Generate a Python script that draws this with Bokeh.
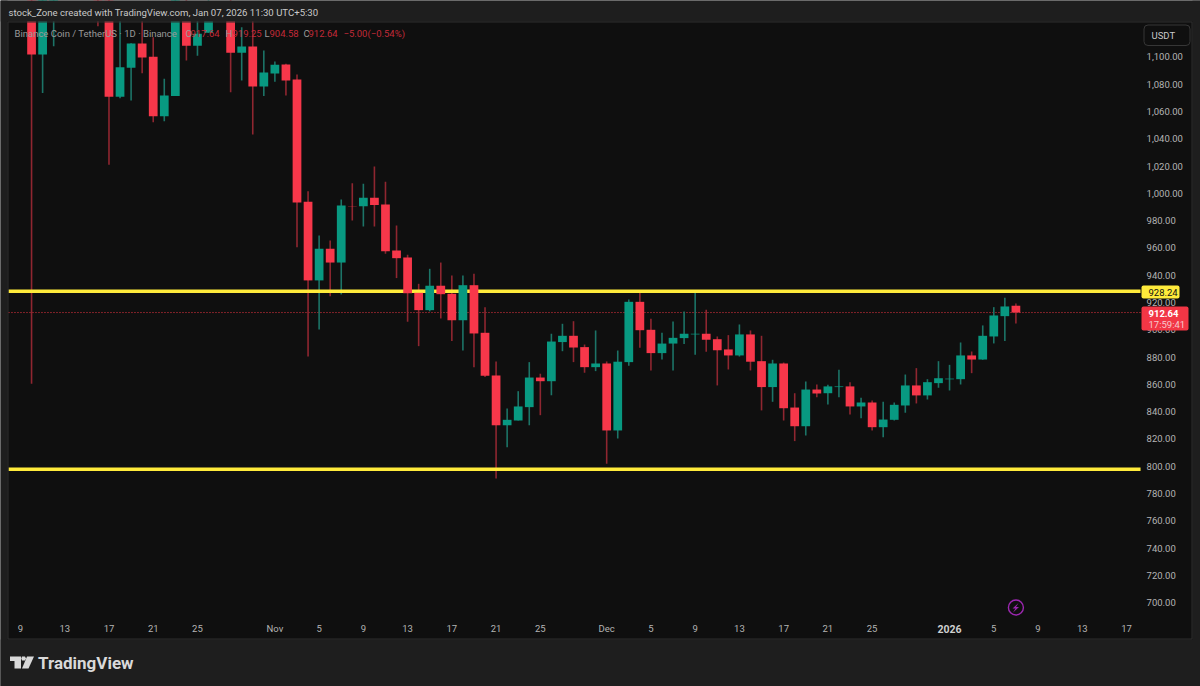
from bokeh.plotting import figure
from bokeh.embed import file_html
from bokeh.resources import INLINE
from bokeh.models import (Range1d, Label, BoxAnnotation, PolyAnnotation, FixedTicker,
                          ColumnDataSource, NumeralTickFormatter)

# ---- data -----------------------------------------------------------------
# day number counted from 9 Oct 2025; candles wholly above the pane are not listed
days = [1, 2, 3, 7, 8, 9, 10, 11, 12, 13, 14, 15, 16, 17, 19, 20, 21, 22, 23, 24, 25, 26, 27, 28,
        29, 30, 31, 32, 33, 34, 35, 36, 37, 38, 39, 40, 41, 42, 43, 44, 45, 46, 47, 48, 49, 50,
        51, 52, 53, 54, 55, 56, 57, 58, 59, 60, 61, 62, 63, 64, 65, 66, 67, 68, 69, 70, 71, 72,
        73, 74, 75, 76, 77, 78, 79, 80, 81, 82, 83, 84, 85, 86, 87, 88, 89, 90]
opens = [1170, 1101.8, 1135, 1170, 1170, 1070.8, 1092.1, 1109.9, 1100.1, 1056.6, 1071.3, 1135, 1108.2, 1117.7,
         1140, 1103.1, 1107.7, 1078.4, 1087.9, 1094.5, 1083.5, 993.8, 936.2, 959.4, 949.3, 990.6, 990.6, 996.8,
         991.9, 958.2, 953, 927.1, 914.4, 932.3, 926.4, 907, 932.7, 897.8, 866.5, 830, 833.5, 843.3, 865, 862.3,
         891, 895.6, 887.3, 872.6, 875.3, 826.2, 876.3, 920.5, 900, 882.9, 889.9, 893.9, 896.6, 897.1, 893.1, 885.6,
         881.2, 896.6, 877, 858, 875.3, 843, 829.3, 856.2, 853.5, 858, 858.5, 843.8, 846.7, 828.6, 834, 844.5,
         859.2, 851.9, 860.9, 863.7, 863.8, 881.2, 878.2, 895.1, 910, 917.64]
closes = [1101.8, 1150, 1160, 1135, 1070.8, 1092.5, 1109.9, 1099.6, 1056.6, 1071.8, 1145, 1108.2, 1117, 1135,
          1103.1, 1107.7, 1078.4, 1088.6, 1094.3, 1082.8, 993.3, 936.2, 959.4, 949.3, 991.1, 990.3, 996.8, 991.4,
          957.6, 952.5, 926.8, 914.4, 932.3, 926.1, 907, 932.7, 897.3, 866.3, 830, 834, 843.8, 865, 862.3, 891.4,
          895.6, 887, 872.6, 875.3, 826.2, 876.6, 920.5, 899.7, 882.9, 889.9, 894.1, 897.1, 897.1, 892.7, 885, 881.2,
          896.6, 876.6, 858, 875.3, 842.5, 829.3, 856.2, 853.3, 858.5, 858.5, 843.8, 846.7, 828.6, 834.2, 845, 859.2,
          851.9, 861.6, 864.5, 864.2, 881.2, 878.2, 895.6, 910.5, 917.1, 912.64]
highs = [1200, 1160, 1170, 1180, 1180, 1130, 1110, 1130, 1114.5, 1084, 1150, 1145, 1130, 1145,
         1150, 1121.8, 1130, 1104.8, 1096.7, 1095, 1087.2, 1001.6, 969.1, 965.5, 995.5, 1007.5, 1007, 1019.7,
         1008.5, 976.5, 955, 933.7, 944.7, 949.3, 939.8, 939.8, 941, 916.6, 876.8, 842.3, 855, 876.3, 867.8, 897.1,
         904.4, 906.3, 889.2, 899.5, 876.8, 884.8, 922.2, 928.1, 908.1, 897.8, 906.1, 913.4, 928.1, 914.7, 895.1, 896.1,
         903.9, 899.5, 895.6, 878, 876, 853.5, 862.1, 859.9, 859.7, 870.7, 861.6, 850.2, 848.2, 847.2, 846.7, 867.2,
         871.9, 863.8, 877, 874.3, 890.7, 884.1, 903.2, 916.6, 923.5, 919.25]
lows = [860.4, 1073.5, 1107.9, 1122.6, 1021, 1069.8, 1068.1, 1088.1, 1052.2, 1052.9, 1071.3, 1097.4, 1100.9, 1117.7,
        1074.2, 1082.8, 1043.2, 1071.3, 1081.8, 1071.8, 960.6, 880.4, 900.2, 924.6, 925.9, 980.1, 975.7, 975.7,
        955.7, 937.9, 905.9, 888, 913.5, 908.3, 891.7, 884.8, 872.6, 865.3, 791, 813.9, 833.5, 830, 837.4, 852,
        884.3, 876.3, 868.5, 869.7, 801.8, 820.3, 873.6, 886.8, 870.2, 878.2, 870.2, 889.5, 881.7, 883.9, 859.2, 870.9,
        880.4, 870.2, 840.9, 847.2, 833.5, 818.4, 822.5, 850.6, 845.2, 850.6, 837.9, 835.2, 826.2, 821.3, 833.5, 839.2,
        846, 848.9, 857.5, 855.5, 859.9, 868.2, 878, 890, 891.7, 904.58]

level_prices = [928.24, 797.76]
last_price = [912.64]
price_ticks = [700, 720, 740, 760, 780, 800, 820, 840, 860, 880, 900, 920, 940, 960, 980,
               1000, 1020, 1040, 1060, 1080, 1100]
time_ticks = [0, 4, 8, 12, 16, 23, 27, 31, 35, 39, 43, 47, 53, 57, 61, 65, 69, 73, 77, 84, 88, 92, 96, 100]
time_labels = ["9", "13", "17", "21", "25", "Nov", "5", "9", "13", "17", "21", "25", "Dec", "5", "9",
               "13", "17", "21", "25", "", "5", "9", "13", "17"]
year_tick = 84
year_label = "2026"
title_text = "stock_Zone created with TradingView.com, Jan 07, 2026 11:30 UTC+5:30"

# ---- palette / type ---------------------------------------------------------
UP, DOWN = "#089981", "#f7374a"
WICK_UP, WICK_DOWN = "#1c7467", "#8f2630"
PANE, CHROME, EDGE = "#0f0f0f", "#1e1e1e", "#2e2e2e"
GREY = "#b4b4b4"
FONT = "Roboto"
TEXT_SIZE = "9.5px"

colors = [UP if c >= o else DOWN for o, c in zip(opens, closes)]
wicks = [WICK_UP if c >= o else WICK_DOWN for o, c in zip(opens, closes)]
src = ColumnDataSource(dict(x=days, o=opens, c=closes, h=highs, l=lows, col=colors, wick=wicks))

# the frame fills the whole page; the axes sit inside it at the pane's right and bottom edges
W, H = 1200, 686
PANE_LEFT, PANE_RIGHT = -1.085, 101.27
PANE_BOTTOM = 688.4
p = figure(width=W, height=H, output_backend="svg", toolbar_location=None,
           x_range=Range1d(-1.808, 106.69), y_range=Range1d(638.5, 1141.4),
           y_axis_location="right", min_border_left=0, min_border_right=0,
           min_border_top=0, min_border_bottom=0,
           background_fill_color=PANE, border_fill_color=CHROME, outline_line_color=None)
p.grid.visible = False

# axes
ya = p.yaxis[0]
ya.fixed_location = PANE_RIGHT
ya.ticker = FixedTicker(ticks=price_ticks)
ya.formatter = NumeralTickFormatter(format="0,0.00")
ya.axis_line_color = None
ya.major_tick_line_color = None
ya.minor_tick_line_color = None
ya.major_tick_out = 0
ya.major_label_standoff = 6
ya.major_label_text_color = GREY
ya.major_label_text_font = FONT
ya.major_label_text_font_size = TEXT_SIZE

xa = p.xaxis[0]
xa.fixed_location = PANE_BOTTOM
xa.ticker = FixedTicker(ticks=time_ticks)
xa.major_label_overrides = {t: s for t, s in zip(time_ticks, time_labels)}
xa.axis_line_color = None
xa.major_tick_line_color = None
xa.minor_tick_line_color = None
xa.major_tick_out = 0
xa.major_label_standoff = 5
xa.major_label_text_color = GREY
xa.major_label_text_font = FONT
xa.major_label_text_font_size = TEXT_SIZE

# marks: last-price line, wicks, level lines, bodies
p.segment([PANE_LEFT], last_price, [PANE_RIGHT], last_price, line_color="#f23645", line_width=1, line_dash="1 2")
p.segment("x", "h", "x", "l", source=src, line_color="wick", line_width=1.6)
p.segment([PANE_LEFT] * 2, level_prices, [PANE_RIGHT] * 2, level_prices, line_color="#ffeb3b", line_width=3.5)
p.vbar("x", 0.79, "o", "c", source=src, fill_color="col", line_color=None)


def box(left, right, top, bottom, fill, line=None, radius=0):
    b = BoxAnnotation(left=left, right=right, top=top, bottom=bottom, left_units="canvas", right_units="canvas",
                      top_units="canvas", bottom_units="canvas", fill_color=fill, fill_alpha=1 if fill else 0,
                      line_color=line, line_width=1, line_alpha=1, border_radius=radius, editable=False)
    p.add_layout(b)
    return b


def lbl(text, x, y, color=GREY, size=TEXT_SIZE, style="normal", align="left", x_units="canvas", y_units="canvas"):
    lab = Label(x=x, y=y, x_units=x_units, y_units=y_units, text=text, text_color=color, text_font=FONT,
                text_font_size=size, text_font_style=style, text_align=align, text_baseline="middle")
    p.add_layout(lab)
    return lab


def poly(xs, ys, color):
    p.add_layout(PolyAnnotation(xs=xs, ys=ys, xs_units="canvas", ys_units="canvas", fill_color=color,
                                fill_alpha=1, line_color=None))


# chrome bands round the chart area (they also hide what runs above the pane)
box(0, W, 0, 21, CHROME)
box(0, W, 639, H, CHROME)
box(0, 7, 0, H, CHROME)
box(1192, W, 0, H, CHROME)
box(7.5, 1191.5, 21.5, 638.5, None, line=EDGE)

# all coordinates below are page pixels
lbl(title_text, 8, 12, color="#c9c9c9", size="9.6px")

lbl("Binance Coin / TetherUS · 1D · Binance", 14, 32.5, color="#9a9a9a")
for txt, xx, col in [("O", 185, "#9a9a9a"), ("917.64", 190, "#c22a38"), ("H", 225, "#9a9a9a"),
                     ("919.25", 232, "#c22a38"), ("L", 264, "#9a9a9a"), ("904.58", 269, "#c22a38"),
                     ("C", 303, "#9a9a9a"), ("912.64", 308, "#c22a38"), ("−5.00", 343, "#c22a38"),
                     ("(−0.54%)", 367, "#c22a38")]:
    lbl(txt, xx, 32.5, color=col)

# USDT button
box(1143.5, 1189.5, 24.5, 45, None, line="#363636", radius=4)
lbl("USDT", 1151, 35, color="#c8c8c8")

# price tags on the axis
box(1141, 1179, 285, 298, "#ffeb3b", radius=2)
lbl("928.24", 1148, 291.5, color="#111111")
box(1141, 1188, 306, 330, "#f23645", radius=2)
lbl("912.64", 1148, 312.5, color="#ffffff", style="bold")
lbl("17:59:41", 1148, 324, color="#f6c9ce")

# bold year on the time scale
lbl(year_label, year_tick, 628, color="#d0d0d0", size="10.5px", style="bold", align="center", x_units="data")

# lightning-bolt marker near the last candle
p.scatter([90], [696.4], size=15, marker="circle", fill_color=None, line_color="#9c27b0", line_width=1.4)
poly([1018, 1012, 1015, 1012.5, 1018.5, 1015.5], [602.5, 608, 608, 612, 606.5, 606.5], "#9c27b0")

# TradingView logo
LOGO = "#d9d9d9"
poly([9.5, 20.5, 20.5, 14, 14, 9.5], [656, 656, 668, 668, 660.5, 660.5], LOGO)
poly([21.5, 24.5, 25.5, 24.5, 21.5, 20.8], [656, 656, 658, 660, 660, 658], LOGO)
poly([26.5, 33.5, 28, 21.5], [656, 656, 668, 668], LOGO)
lbl("TradingView", 37.5, 662.5, color=LOGO, size="17px", style="bold")

open("out.html", "w").write(file_html(p, INLINE))
